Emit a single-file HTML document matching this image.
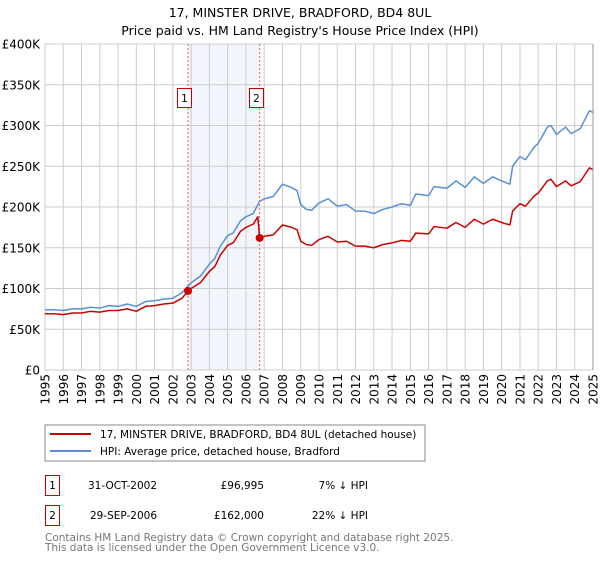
<!DOCTYPE html>
<html><head><meta charset="utf-8"><style>
body{margin:0;background:#fff;font-family:"DejaVu Sans","Liberation Sans",sans-serif;}
svg text{font-family:"DejaVu Sans","Liberation Sans",sans-serif;}
</style></head><body>
<svg id="c" width="600" height="560" viewBox="0 0 600 560" xmlns="http://www.w3.org/2000/svg">
<text x="300" y="17" text-anchor="middle" font-size="12.5">17, MINSTER DRIVE, BRADFORD, BD4 8UL</text>
<text x="300" y="35" text-anchor="middle" font-size="12.5">Price paid vs. HM Land Registry's House Price Index (HPI)</text>
<g id="grid"></g><g id="series"></g><g id="axes"></g>
<rect x="45" y="425" width="380" height="36" fill="#fff" stroke="#888"/>
<line x1="50" y1="434" x2="91" y2="434" stroke="#cc0000" stroke-width="2"/>
<text x="100" y="438" font-size="10.5">17, MINSTER DRIVE, BRADFORD, BD4 8UL (detached house)</text>
<line x1="50" y1="451" x2="91" y2="451" stroke="#5b8fd4" stroke-width="2"/>
<text x="100" y="455" font-size="10.5">HPI: Average price, detached house, Bradford</text>
<g>
<rect x="45.5" y="475.5" width="14" height="20" fill="#fff" stroke="#cc0000"/>
<text x="52.5" y="489" text-anchor="middle" font-size="10.5">1</text>
<text x="157" y="489" text-anchor="end" font-size="10.5">31-OCT-2002</text>
<text x="264" y="489" text-anchor="end" font-size="10.5">£96,995</text>
<text x="368" y="489" text-anchor="end" font-size="10.5">7% ↓ HPI</text></g>
<g>
<rect x="45.5" y="505.5" width="14" height="20" fill="#fff" stroke="#cc0000"/>
<text x="52.5" y="519" text-anchor="middle" font-size="10.5">2</text>
<text x="157" y="519" text-anchor="end" font-size="10.5">29-SEP-2006</text>
<text x="264" y="519" text-anchor="end" font-size="10.5">£162,000</text>
<text x="368" y="519" text-anchor="end" font-size="10.5">22% ↓ HPI</text></g>
<text x="45" y="541" font-size="10.5" fill="#777">Contains HM Land Registry data © Crown copyright and database right 2025.</text>
<text x="45" y="551" font-size="10.5" fill="#777">This data is licensed under the Open Government Licence v3.0.</text>
</svg>
<script>
const hpiT=[1995,1995.5,1996,1996.5,1997,1997.5,1998,1998.5,1999,1999.5,2000,2000.5,2001,2001.5,2002,2002.5,2002.83,2003,2003.5,2004,2004.3,2004.6,2005,2005.3,2005.7,2006,2006.4,2006.75,2007,2007.5,2008,2008.5,2008.8,2009,2009.3,2009.6,2010,2010.5,2011,2011.5,2012,2012.5,2013,2013.5,2014,2014.5,2015,2015.3,2016,2016.3,2017,2017.5,2018,2018.5,2019,2019.5,2020,2020.45,2020.6,2021,2021.3,2021.8,2022,2022.5,2022.7,2023,2023.5,2023.8,2024.3,2024.8,2025];
const hpiV=[74,74,73,75,75,77,76,79,78,81,78,84,85,87,88,95,103,107,115,130,137,152,165,168,183,188,192,207,210,213,228,224,220,203,197,196,205,210,201,203,195,195,192,197,200,204,202,216,214,225,223,232,224,237,229,237,232,228,250,262,258,274,278,298,300,289,298,290,296,318,316];
const ppT=[1995,1995.5,1996,1996.5,1997,1997.5,1998,1998.5,1999,1999.5,2000,2000.5,2001,2001.5,2002,2002.5,2002.83,2003,2003.5,2004,2004.3,2004.6,2005,2005.3,2005.7,2006,2006.4,2006.65,2006.75,2007,2007.5,2008,2008.5,2008.8,2009,2009.3,2009.6,2010,2010.5,2011,2011.5,2012,2012.5,2013,2013.5,2014,2014.5,2015,2015.3,2016,2016.3,2017,2017.5,2018,2018.5,2019,2019.5,2020,2020.45,2020.6,2021,2021.3,2021.8,2022,2022.5,2022.7,2023,2023.5,2023.8,2024.3,2024.8,2025];
const ppV=[69,69,68,70,70,72,71,73,73,75,72,78,79,81,82,88,97,100,107,121,127,141,153,156,170,175,179,188,162,164,166,178,175,172,158,154,153,160,164,157,158,152,152,150,154,156,159,158,168,167,176,174,181,175,185,179,185,181,178,195,204,201,214,217,232,234,225,232,226,231,248,246];
const saleT=[2002.83,2006.75];
const saleV=[96.995,162];
const yTicks=[0,50,100,150,200,250,300,350,400];
const yLabels=["£0","£50K","£100K","£150K","£200K","£250K","£300K","£350K","£400K"];
const years=[1995,1996,1997,1998,1999,2000,2001,2002,2003,2004,2005,2006,2007,2008,2009,2010,2011,2012,2013,2014,2015,2016,2017,2018,2019,2020,2021,2022,2023,2024,2025];
const X0=45,X1=593,Y0=370,Y1=44;
const xs=t=>X0+(t-1995)/30*(X1-X0);
const ys=v=>Y0-v/400*(Y0-Y1);
const NS="http://www.w3.org/2000/svg";
function mk(tag,parent,attrs){const e=document.createElementNS(NS,tag);for(const k in attrs)e.setAttribute(k,attrs[k]);parent.appendChild(e);return e;}
const grid=document.getElementById('grid'),ser=document.getElementById('series'),ax=document.getElementById('axes');
const sh=mk('rect',grid,{x:xs(saleT[0]),y:Y1,width:xs(saleT[1])-xs(saleT[0]),height:Y0-Y1,fill:'#f2f5fc'});


years.forEach(y=>{const l=mk('line',grid,{x1:xs(y),x2:xs(y),y1:Y1,y2:Y0,stroke:'#ccc'});


const t=mk('text',ax,{transform:`translate(${xs(y)+4.5},374) rotate(-90)`,'text-anchor':'end','font-size':'12'});t.textContent=y;

});
yTicks.forEach((v,i)=>{const l=mk('line',grid,{x1:X0,x2:X1,y1:ys(v),y2:ys(v),stroke:'#ccc'});


const t=mk('text',ax,{x:40,y:ys(v)+4.5,'text-anchor':'end','font-size':'12'});t.textContent=yLabels[i];

});
saleT.forEach((t,i)=>{const l=mk('line',ser,{x1:xs(t),x2:xs(t),y1:Y1,y2:Y0,stroke:'#e06666','stroke-dasharray':'2,2'});


const b=mk('rect',ser,{x:Math.round(xs(t))-11+0.5,y:88.5,width:14,height:19,fill:'#fff',stroke:'#cc0000'});


const tx=mk('text',ser,{x:Math.round(xs(t))-3.5,y:102,'text-anchor':'middle','font-size':'10.5'});tx.textContent=i+1;

});
const line=(T,V,c,n)=>{const p=mk('polyline',ser,{points:T.map((t,i)=>xs(t)+','+ys(V[i])).join(' '),fill:'none',stroke:c,'stroke-width':1.5,'stroke-linejoin':'round'});

};
line(hpiT,hpiV,'#5b8fd4','hpi-line');
line(ppT,ppV,'#cc0000','price-paid-line');
saleT.forEach((t,i)=>{const c=mk('circle',ser,{cx:xs(t),cy:ys(saleV[i]),r:4,fill:'#cc0000'});

});
const r=mk('line',ax,{x1:X1,x2:X1,y1:Y1,y2:Y0,stroke:'#999'});


</script>
</body></html>
